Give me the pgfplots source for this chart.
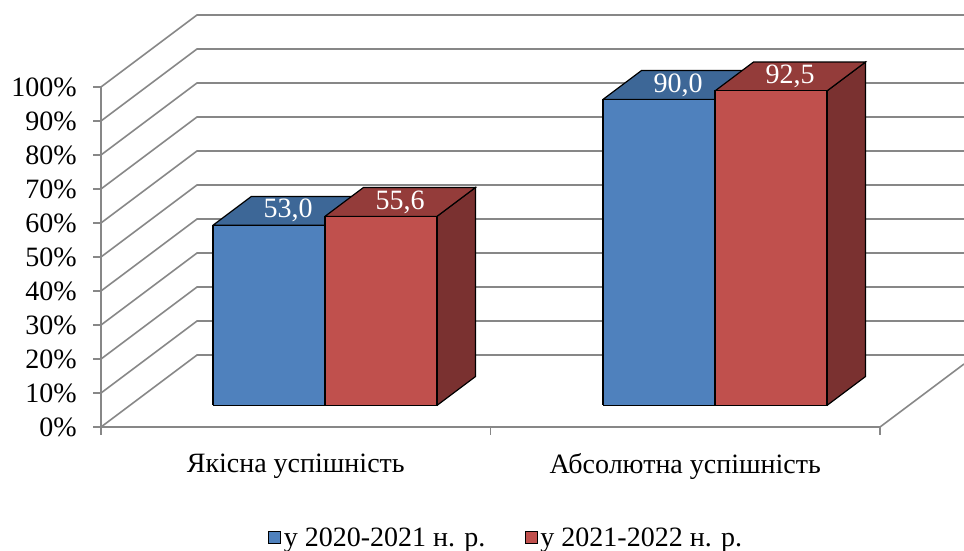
\documentclass[border=0pt]{standalone}
\usepackage{pgfplots}
\pgfplotsset{compat=1.18}
\usepackage{fontspec}
\setmainfont{Liberation Serif}
\definecolor{bfront}{HTML}{4F81BD}
\definecolor{btop}{HTML}{3D6797}
\definecolor{bside}{HTML}{345A85}
\definecolor{rfront}{HTML}{C0504D}
\definecolor{rtop}{HTML}{943C3A}
\definecolor{rside}{HTML}{7A3130}
\definecolor{gridgray}{HTML}{878787}
\begin{document}
\begin{tikzpicture}[font=\fontsize{28pt}{33pt}\selectfont]
\begin{axis}[
  x={(1pt,0pt)}, y={(96pt,72pt)}, z={(0pt,3.4pt)},
  xmin=101, xmax=880, ymin=0, ymax=1, zmin=0, zmax=100,
  hide axis, clip=false,
  legend columns=2,
  legend style={draw=none, fill=none, at={(axis cs:506.5,0,-32.6)}, anchor=center,
    /tikz/every even column/.append style={column sep=36pt},
    nodes={inner sep=3pt}},
  legend image code/.code={\draw[#1, draw=black, line width=1pt] (0pt,-6pt) rectangle (12pt,6pt);},
  every axis plot/.append style={line width=1.2pt, line join=miter, mark=none},
]
% walls and floor
\pgfplotsinvokeforeach{0,10,...,100}{
  \draw[gridgray, line width=1.6pt] (axis cs:101,0,#1) -- (axis cs:101,1,#1) -- (axis cs:868,1,#1);
  \draw[gridgray, line width=1.6pt] (axis cs:101,0,#1) -- ++(-8pt,0pt);
  \node[anchor=east, inner sep=0pt] at ([xshift=-24pt]axis cs:101,0,#1) {#1\%};
}
\draw[gridgray, line width=1.6pt] (axis cs:101,0,0) -- (axis cs:101,0,100);
\draw[gridgray, line width=1.6pt] (axis cs:101,0,0) -- (axis cs:880,0,0) -- (axis cs:880,0.875,0);
\draw[gridgray, line width=1.6pt] (axis cs:101,0,0) -- ++(0pt,-8pt);
\draw[gridgray, line width=1.6pt] (axis cs:490.5,0,0) -- ++(0pt,-8pt);
\draw[gridgray, line width=1.6pt] (axis cs:880,0,0) -- ++(0pt,-8pt);

% group 1: blue 53.0
\addplot3[fill=bside, draw=black, forget plot] coordinates {(296.2,0.3,0)(296.2,0.7,0)(296.2,0.7,53.0)(296.2,0.3,53.0)(296.2,0.3,0)};
\addplot3[fill=btop, draw=black, forget plot] coordinates {(184.2,0.3,53.0)(296.2,0.3,53.0)(296.2,0.7,53.0)(184.2,0.7,53.0)(184.2,0.3,53.0)};
\addplot3[fill=bfront, draw=black, forget plot] coordinates {(184.2,0.3,0)(296.2,0.3,0)(296.2,0.3,53.0)(184.2,0.3,53.0)(184.2,0.3,0)};
% group 1: red 55.6
\addplot3[fill=rside, draw=black, forget plot] coordinates {(408.2,0.3,0)(408.2,0.7,0)(408.2,0.7,55.6)(408.2,0.3,55.6)(408.2,0.3,0)};
\addplot3[fill=rtop, draw=black, forget plot] coordinates {(296.2,0.3,55.6)(408.2,0.3,55.6)(408.2,0.7,55.6)(296.2,0.7,55.6)(296.2,0.3,55.6)};
\addplot3[fill=rfront, draw=black, forget plot] coordinates {(296.2,0.3,0)(408.2,0.3,0)(408.2,0.3,55.6)(296.2,0.3,55.6)(296.2,0.3,0)};
% group 2: blue 90.0
\addplot3[fill=bside, draw=black, forget plot] coordinates {(686.2,0.3,0)(686.2,0.7,0)(686.2,0.7,90.0)(686.2,0.3,90.0)(686.2,0.3,0)};
\addplot3[fill=btop, draw=black, forget plot] coordinates {(574.2,0.3,90.0)(686.2,0.3,90.0)(686.2,0.7,90.0)(574.2,0.7,90.0)(574.2,0.3,90.0)};
\addplot3[fill=bfront, draw=black, forget plot] coordinates {(574.2,0.3,0)(686.2,0.3,0)(686.2,0.3,90.0)(574.2,0.3,90.0)(574.2,0.3,0)};
% group 2: red 92.5
\addplot3[fill=rside, draw=black, forget plot] coordinates {(798.2,0.3,0)(798.2,0.7,0)(798.2,0.7,92.5)(798.2,0.3,92.5)(798.2,0.3,0)};
\addplot3[fill=rtop, draw=black, forget plot] coordinates {(686.2,0.3,92.5)(798.2,0.3,92.5)(798.2,0.7,92.5)(686.2,0.7,92.5)(686.2,0.3,92.5)};
\addplot3[fill=rfront, draw=black, forget plot] coordinates {(686.2,0.3,0)(798.2,0.3,0)(798.2,0.3,92.5)(686.2,0.3,92.5)(686.2,0.3,0)};

% value labels
\node[white] at (axis cs:240.2,0.5,53.0) {53,0};
\node[white] at (axis cs:352.2,0.5,55.6) {55,6};
\node[white] at (axis cs:630.2,0.5,90.0) {90,0};
\node[white] at (axis cs:742.2,0.5,92.5) {92,5};

% category labels
\node at (axis cs:295.75,0,-11.5) {Якісна успішність};
\node at (axis cs:685.25,0,-11.5) {Абсолютна успішність};

\addlegendimage{fill=bfront}
\addlegendentry{у 2020-2021 н. р.}
\addlegendimage{fill=rfront}
\addlegendentry{у 2021-2022 н. р.}

\coordinate (BL) at (axis cs:0,0,-36.47);
\coordinate (TR) at (axis cs:964,0,125.59);
\end{axis}
\pgfresetboundingbox
\path[use as bounding box] (BL) rectangle (TR);
\end{tikzpicture}
\end{document}
